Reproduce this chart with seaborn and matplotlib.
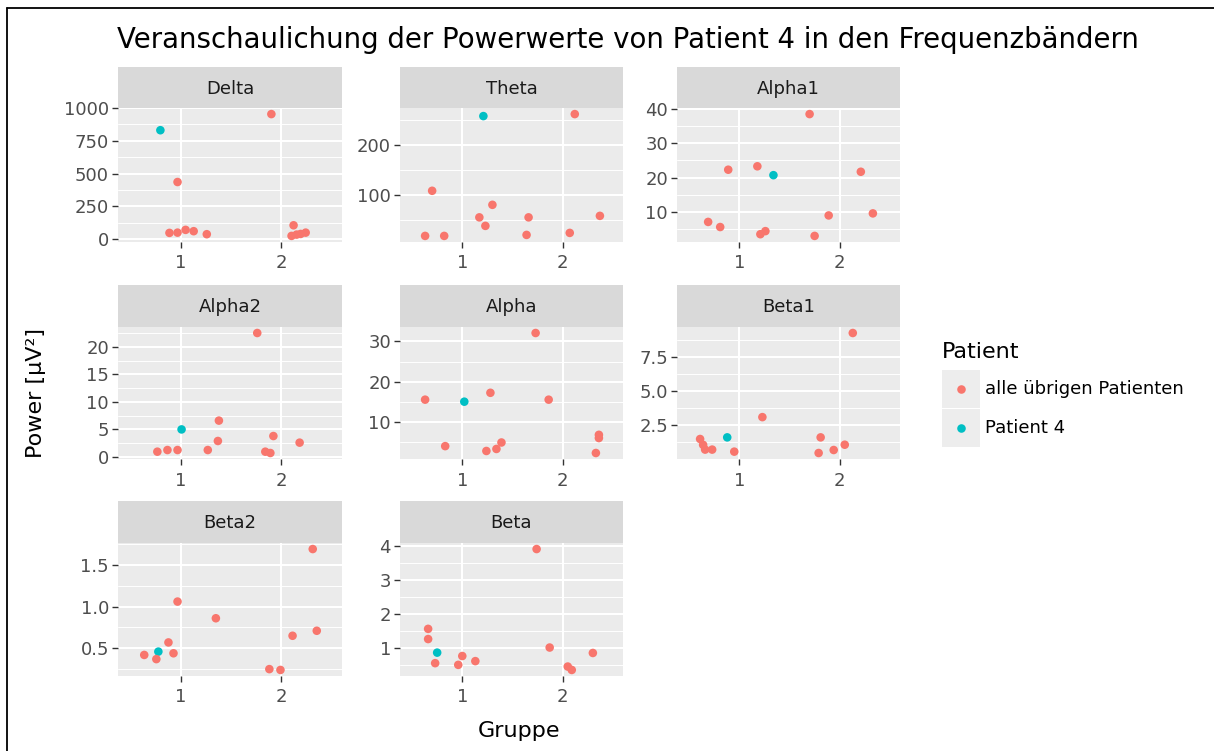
import numpy as np
import pandas as pd
import matplotlib
matplotlib.use("Agg")
import matplotlib.pyplot as plt
import seaborn as sns
from matplotlib.patches import Rectangle
from matplotlib.ticker import FixedLocator

# ---------------- data ----------------
# first point of each band = Patient 4, the rest = alle übrigen Patienten
# x = jittered position on the "Gruppe" axis (groups 1 and 2)
bands = ["Delta", "Theta", "Alpha1", "Alpha2", "Alpha", "Beta1", "Beta2", "Beta"]
legend_labels = ["alle übrigen Patienten", "Patient 4"]
group_ticks = [1, 2]

delta_x = [0.80, 1.90, 0.97, 0.89, 0.97, 1.05, 1.13, 1.26, 2.12, 2.10, 2.15, 2.19, 2.24]
delta_power = [831, 954, 436, 48, 50, 71, 61, 38, 106, 25, 35, 40, 50]

theta_x = [1.21, 2.12, 0.70, 0.63, 0.82, 1.17, 1.23, 1.30, 1.66, 1.64, 2.07, 2.37]
theta_power = [257, 261, 108, 18, 18, 55, 38, 80, 55, 20, 24, 58]

alpha1_x = [1.34, 1.70, 0.89, 1.18, 2.21, 0.69, 0.81, 1.21, 1.26, 1.89, 1.75, 2.33]
alpha1_power = [20.7, 38.6, 22.3, 23.3, 21.7, 7.0, 5.5, 3.4, 4.3, 8.9, 2.9, 9.5]

alpha2_x = [1.01, 1.76, 1.38, 1.37, 1.92, 2.18, 0.77, 0.87, 0.97, 1.27, 1.84, 1.89]
alpha2_power = [5.0, 22.5, 6.6, 2.9, 3.8, 2.6, 0.96, 1.26, 1.26, 1.26, 0.96, 0.72]

alpha_x = [1.02, 1.73, 0.63, 1.28, 1.86, 0.83, 1.24, 1.34, 1.39, 2.36, 2.36, 2.33]
alpha_power = [15.1, 32.1, 15.6, 17.3, 15.6, 4.1, 2.9, 3.4, 5.0, 6.9, 6.1, 2.4]

beta1_x = [0.88, 2.13, 1.23, 0.61, 0.64, 0.66, 0.73, 0.95, 1.81, 1.79, 1.94, 2.05]
beta1_power = [1.60, 9.28, 3.09, 1.48, 1.05, 0.70, 0.70, 0.55, 1.60, 0.45, 0.67, 1.06]

beta2_x = [0.78, 2.31, 0.97, 1.35, 0.88, 0.64, 0.76, 0.93, 2.11, 2.35, 1.88, 1.99]
beta2_power = [0.46, 1.69, 1.06, 0.86, 0.57, 0.42, 0.37, 0.44, 0.65, 0.71, 0.25, 0.24]

beta_x = [0.75, 1.74, 0.66, 0.66, 0.73, 0.96, 1.00, 1.13, 1.87, 2.30, 2.05, 2.09]
beta_power = [0.85, 3.90, 1.55, 1.25, 0.54, 0.49, 0.75, 0.60, 1.00, 0.84, 0.44, 0.34]

y_ticks = {
    "Delta": [0, 250, 500, 750, 1000],
    "Theta": [100, 200],
    "Alpha1": [10, 20, 30, 40],
    "Alpha2": [0, 5, 10, 15, 20],
    "Alpha": [10, 20, 30],
    "Beta1": [2.5, 5.0, 7.5],
    "Beta2": [0.5, 1.0, 1.5],
    "Beta": [1, 2, 3, 4],
}
y_tick_fmt = {"Beta1": "{:.1f}", "Beta2": "{:.1f}"}

series = {
    "Delta": (delta_x, delta_power),
    "Theta": (theta_x, theta_power),
    "Alpha1": (alpha1_x, alpha1_power),
    "Alpha2": (alpha2_x, alpha2_power),
    "Alpha": (alpha_x, alpha_power),
    "Beta1": (beta1_x, beta1_power),
    "Beta2": (beta2_x, beta2_power),
    "Beta": (beta_x, beta_power),
}

frames = []
for b in bands:
    xs, ys = series[b]
    lab = [legend_labels[1]] + [legend_labels[0]] * (len(xs) - 1)
    frames.append(pd.DataFrame({"Band": b, "Gruppe": xs, "Power": ys, "Patient": lab}))
df = pd.concat(frames, ignore_index=True)

# ---------------- style ----------------
sns.set_theme(style="white")
plt.rcParams["font.family"] = ["DejaVu Sans"]

RED, CYAN = "#F8766D", "#00BFC4"
palette = {legend_labels[0]: RED, legend_labels[1]: CYAN}
PANEL_BG, STRIP_BG = "#EBEBEB", "#D9D9D9"
TICK_FS, STRIP_FS, AXT_FS, TITLE_FS = 13, 13, 16, 19.9
PT_S = 38

W, H = 1214, 751
fig = plt.figure(figsize=(W / 100, H / 100), dpi=100)
fig.patch.set_facecolor("white")


def frect(x0, y0, x1, y1):
    return [x0 / W, 1 - y1 / H, (x1 - x0) / W, (y1 - y0) / H]


cols = [(118, 342), (400, 623), (677, 900)]
rows = [(67, 108, 242), (285, 327, 459), (501, 543, 676)]

for i, b in enumerate(bands):
    r, c = divmod(i, 3)
    x0, x1 = cols[c]
    st, sb, pb = rows[r]
    ax = fig.add_axes(frect(x0, sb, x1, pb))
    ax.set_facecolor(PANEL_BG)
    d = df[df.Band == b]
    sns.scatterplot(data=d, x="Gruppe", y="Power", hue="Patient",
                    hue_order=legend_labels, palette=palette, s=PT_S,
                    linewidth=0, legend=False, ax=ax, zorder=3)
    ax.set_xlim(0.38, 2.60)
    lo, hi = d.Power.min(), d.Power.max()
    pad = 0.05 * (hi - lo)
    ax.set_ylim(lo - pad, hi + pad)
    maj = y_ticks[b]
    step = maj[1] - maj[0]
    minor = [m - step / 2 for m in maj] + [maj[-1] + step / 2]
    ax.set_yticks(maj)
    fmt = y_tick_fmt.get(b, "{:g}")
    ax.set_yticklabels([fmt.format(v) for v in maj])
    ax.yaxis.set_minor_locator(FixedLocator(minor))
    ax.set_xticks(group_ticks)
    ax.set_xticklabels([str(g) for g in group_ticks])
    ax.grid(which="major", color="white", lw=1.45)
    ax.grid(which="minor", axis="y", color="white", lw=0.7)
    ax.set_axisbelow(True)
    for s in ax.spines.values():
        s.set_visible(False)
    ax.tick_params(which="major", length=4, width=1, color="#333333",
                   labelsize=TICK_FS, labelcolor="#4D4D4D", pad=2.5,
                   left=True, bottom=True)
    ax.tick_params(axis="x", which="major", pad=5)
    ax.tick_params(which="minor", length=0)
    ax.set_xlabel("")
    ax.set_ylabel("")

    sax = fig.add_axes(frect(x0, st, x1, sb))
    sax.set_facecolor(STRIP_BG)
    sax.set_xticks([])
    sax.set_yticks([])
    for s in sax.spines.values():
        s.set_visible(False)
    sax.text(0.5, 0.47, b, ha="center", va="center", fontsize=STRIP_FS,
             color="#1A1A1A", transform=sax.transAxes)

# overlay in pixel coordinates for titles, legend and frame
ov = fig.add_axes([0, 0, 1, 1], zorder=-1)
ov.set_xlim(0, W)
ov.set_ylim(H, 0)
ov.axis("off")

ov.text(117, 40, "Veranschaulichung der Powerwerte von Patient 4 in den Frequenzbändern",
        ha="left", va="center", fontsize=TITLE_FS, color="black")
ov.text(519, 731, "Gruppe", ha="center", va="center", fontsize=AXT_FS, color="black")
ov.text(36, 393, "Power [µV²]", ha="center", va="center", rotation=90,
        fontsize=AXT_FS, color="black")

# legend
ov.text(942, 352, "Patient", ha="left", va="center", fontsize=AXT_FS, color="black")
key_y = [(370, 408), (409, 447)]
for (ya, yb), lab in zip(key_y, legend_labels):
    ov.add_patch(Rectangle((942, ya), 38, yb - ya, facecolor="#EDEDED",
                           edgecolor="none"))
    ov.scatter([961], [(ya + yb) / 2], s=PT_S, color=palette[lab], linewidths=0,
               zorder=3)
    ov.text(985, (ya + yb) / 2, lab, ha="left", va="center", fontsize=TICK_FS,
            color="black")

# outer frame of the screenshot
ov.plot([7, 7], [8, H], color="black", lw=1.3)
ov.plot([7, W], [8, 8], color="black", lw=1.3)

fig.savefig("out.png", dpi=100)
